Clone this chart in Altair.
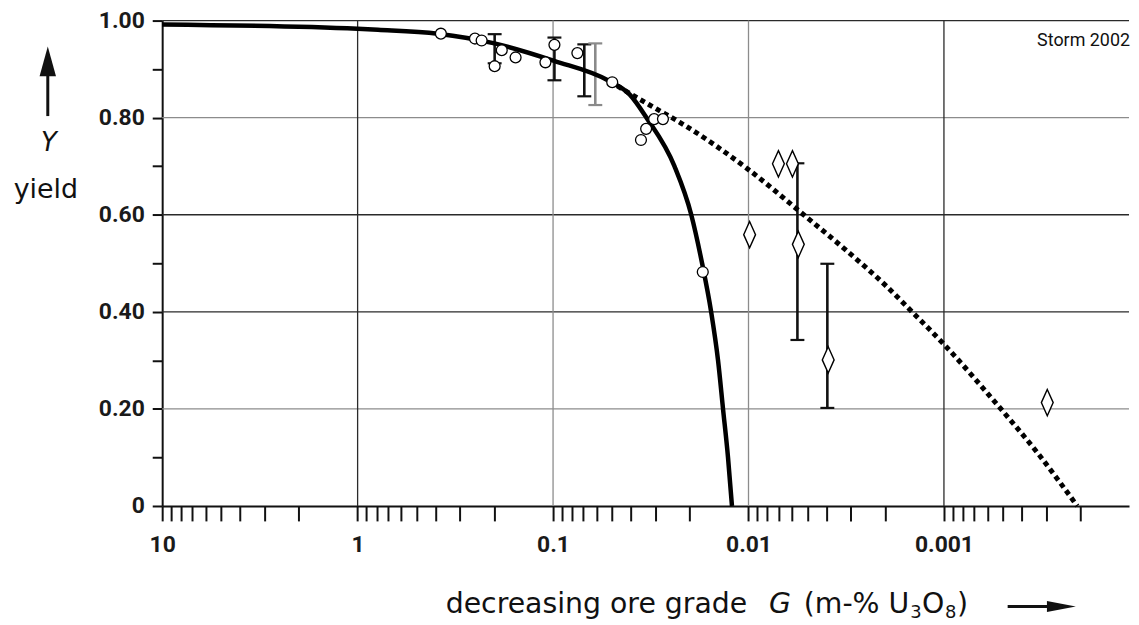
import altair as alt
import pandas as pd

# ---------------- data ----------------
# solid fitted curve (ore grade G in m-% U3O8, yield Y)
solid_G = [10, 1.0, 0.787, 0.389, 0.1996, 0.0988, 0.0513, 0.0406, 0.03327, 0.02393,
           0.01963, 0.01728, 0.01553, 0.01432, 0.01350, 0.01273, 0.01215]
solid_Y = [0.992, 0.983, 0.981, 0.973, 0.953, 0.917, 0.875, 0.848, 0.800, 0.700,
           0.600, 0.500, 0.400, 0.300, 0.200, 0.100, 0.0]

# dashed curve
dash_G = [0.0513, 0.0406, 0.02958, 0.02259, 0.01030, 0.005224, 0.003192, 0.001996,
          0.001455, 0.001000, 0.000519, 0.000333, 0.000208]
dash_Y = [0.875, 0.850, 0.818, 0.791, 0.697, 0.600, 0.528, 0.455,
          0.400, 0.333, 0.203, 0.110, 0.0]

# open circles
circ_G = [0.375, 0.251, 0.232, 0.199, 0.183, 0.1555, 0.1094, 0.0984, 0.0751,
          0.0498, 0.0304, 0.0274, 0.0334, 0.0355, 0.01714]
circ_Y = [0.973, 0.963, 0.959, 0.906, 0.939, 0.924, 0.914, 0.950, 0.933,
          0.873, 0.797, 0.797, 0.777, 0.754, 0.482]

# open diamonds
diam_G = [0.00703, 0.00596, 0.00987, 0.00556, 0.00391, 0.000296]
diam_Y = [0.705, 0.705, 0.559, 0.539, 0.301, 0.213]

# error bars (black)
err_G = [0.199, 0.0984, 0.0692, 0.00562, 0.00395]
err_lo = [0.912, 0.877, 0.844, 0.342, 0.202]
err_hi = [0.972, 0.965, 0.951, 0.706, 0.499]
# error bar (grey)
errg_G = [0.0608]
errg_lo = [0.826]
errg_hi = [0.953]

# axis ticks / labels
x_major = [10, 1, 0.1, 0.01, 0.001]
x_minor_mant = [9, 8, 7, 6, 5, 4, 3, 2]
x_ticks = sorted(set(x_major + [m * d for d in [1, 0.1, 0.01, 0.001, 0.0001]
                                for m in x_minor_mant]), reverse=True)
y_ticks = [0, 0.1, 0.2, 0.3, 0.4, 0.5, 0.6, 0.7, 0.8, 0.9, 1.0]
hgrid_dark = [1.0, 0.6, 0.4]
hgrid_light = [0.8, 0.2]
vgrid_dark = [1, 0.001]
vgrid_light = [0.1, 0.01]

# ---------------- frames ----------------
solid_df = pd.DataFrame({"G": solid_G, "Y": solid_Y, "i": range(len(solid_G))})
dash_df = pd.DataFrame({"G": dash_G, "Y": dash_Y, "i": range(len(dash_G))})
circ_df = pd.DataFrame({"G": circ_G, "Y": circ_Y})
diam_df = pd.DataFrame({"G": diam_G, "Y": diam_Y})
err_df = pd.DataFrame({"G": err_G, "lo": err_lo, "hi": err_hi})
errg_df = pd.DataFrame({"G": errg_G, "lo": errg_lo, "hi": errg_hi})

W, H = 972, 488
xs = alt.Scale(type="log", domain=[0.000113, 10], reverse=True, nice=False)
ys = alt.Scale(domain=[0, 1], nice=False, zero=False)

x_axis = alt.Axis(
    values=x_ticks, grid=False, title=None,
    labelExpr="abs(log(datum.value)/log(10) - round(log(datum.value)/log(10))) < 0.001 && datum.value > 0.0005 ? format(datum.value, '~g') : ''",
    tickSize=15, tickWidth=2, tickColor="#111", domainColor="#111", domainWidth=2,
    labelFont="Roboto", labelFontSize=23, labelFontWeight="bold", labelColor="#1a1a1a",
    labelPadding=13, labelFlush=False, labelOverlap=False,
)
y_axis = alt.Axis(
    values=y_ticks, grid=False, title=None,
    labelExpr="datum.value == 0 ? '0' : (round(datum.value*10) % 2 == 0 ? format(datum.value, '.2f') : '')",
    tickSize=10, tickWidth=2, tickColor="#111", domainColor="#111", domainWidth=2,
    labelFont="Roboto", labelFontSize=23, labelFontWeight="bold", labelColor="#1a1a1a",
    labelPadding=8, labelOverlap=False,
)


def X(f):
    return alt.X(f, scale=xs, axis=x_axis, title=None)


def Y(f):
    return alt.Y(f, scale=ys, axis=y_axis, title=None)


def hrules(vals, color):
    return alt.Chart(pd.DataFrame({"v": vals})).mark_rule(color=color, strokeWidth=1.3).encode(
        y=Y("v:Q"))


def vrules(vals, color):
    return alt.Chart(pd.DataFrame({"v": vals})).mark_rule(color=color, strokeWidth=1.3).encode(
        x=X("v:Q"))


grid = (hrules(hgrid_dark, "#2a2a2a") + hrules(hgrid_light, "#8c8c8c")
        + vrules(vgrid_dark, "#2a2a2a") + vrules(vgrid_light, "#8c8c8c"))


def errbars(df, color):
    base = alt.Chart(df)
    bar = base.mark_rule(color=color, strokeWidth=2.6).encode(
        x=X("G:Q"), y=Y("lo:Q"), y2="hi:Q")
    cap_lo = base.mark_tick(orient="horizontal", color=color, size=14, thickness=2.2, opacity=1).encode(
        x=X("G:Q"), y=Y("lo:Q"))
    cap_hi = base.mark_tick(orient="horizontal", color=color, size=14, thickness=2.2, opacity=1).encode(
        x=X("G:Q"), y=Y("hi:Q"))
    return bar + cap_lo + cap_hi


errs = errbars(err_df, "#111") + errbars(errg_df, "#8a8a8a")

solid = alt.Chart(solid_df).mark_line(color="#000", strokeWidth=4.5, interpolate="monotone").encode(
    x=X("G:Q"), y=Y("Y:Q"), order="i:Q")
dashed = alt.Chart(dash_df).mark_line(color="#000", strokeWidth=5, strokeDash=[5, 4],
                                      interpolate="monotone").encode(
    x=X("G:Q"), y=Y("Y:Q"), order="i:Q")

circles = alt.Chart(circ_df).mark_point(shape="circle", size=120, filled=True, fill="white",
                                        stroke="black", strokeWidth=1.3, opacity=1).encode(
    x=X("G:Q"), y=Y("Y:Q"))
diamonds = alt.Chart(diam_df).mark_point(shape="M0,-1L0.45,0L0,1L-0.45,0Z", size=700, filled=True,
                                         fill="white", stroke="black", strokeWidth=1.4, opacity=1).encode(
    x=X("G:Q"), y=Y("Y:Q"))


# ---------------- annotations ----------------
def txt(text, x, y, size, font="DejaVu Sans", align="left", style="normal",
        baseline="alphabetic", weight="normal"):
    return alt.Chart(pd.DataFrame({"t": [text]})).mark_text(
        font=font, fontSize=size, align=align, baseline=baseline, fontStyle=style,
        fontWeight=weight, color="#111"
    ).encode(text="t:N", x=alt.value(x), y=alt.value(y))


TS = 28.5
storm = txt("Storm 2002", 973, 26, 18, font="Roboto", align="right")
xt1 = txt("decreasing ore grade", 285, 596, TS)
xt2 = txt("G", 610, 596, TS, style="italic")
xt3 = txt("(m-% U", 645, 596, TS)
xt4 = txt("3", 752, 601, 18)
xt5 = txt("O", 764, 596, TS)
xt6 = txt("8", 787, 601, 18)
xt7 = txt(")", 799, 596, TS)
yt1 = txt("Y", -114, 131, 26, align="center", style="italic")
yt2 = txt("yield", -117, 178, 27, align="center")

one = pd.DataFrame({"a": [0]})
x_arrow_line = alt.Chart(one).mark_rule(color="#111", strokeWidth=3).encode(
    x=alt.value(850), x2=alt.value(895), y=alt.value(589))
x_arrow_head = alt.Chart(one).mark_point(shape="M-1,-0.38L1,0L-1,0.38Z", size=841, filled=True,
                                         color="#111", opacity=1).encode(
    x=alt.value(904), y=alt.value(589))
y_arrow_line = alt.Chart(one).mark_rule(color="#111", strokeWidth=3).encode(
    x=alt.value(-115), y=alt.value(52), y2=alt.value(96))
y_arrow_head = alt.Chart(one).mark_point(shape="M0,-1L0.55,1L-0.55,1Z", size=900, filled=True,
                                         color="#111", opacity=1).encode(
    x=alt.value(-115), y=alt.value(41))

chart = alt.layer(
    grid, errs, solid, dashed, circles, diamonds,
    storm, xt1, xt2, xt3, xt4, xt5, xt6, xt7, yt1, yt2,
    x_arrow_line, x_arrow_head, y_arrow_line, y_arrow_head,
).properties(
    width=W, height=H,
    autosize=alt.AutoSizeParams(type="none"),
    padding={"left": 155, "top": 11, "right": 2, "bottom": 117},
    background="white",
).configure_view(stroke=None)

chart.save("out.html", embed_options={"renderer": "svg", "actions": False})
